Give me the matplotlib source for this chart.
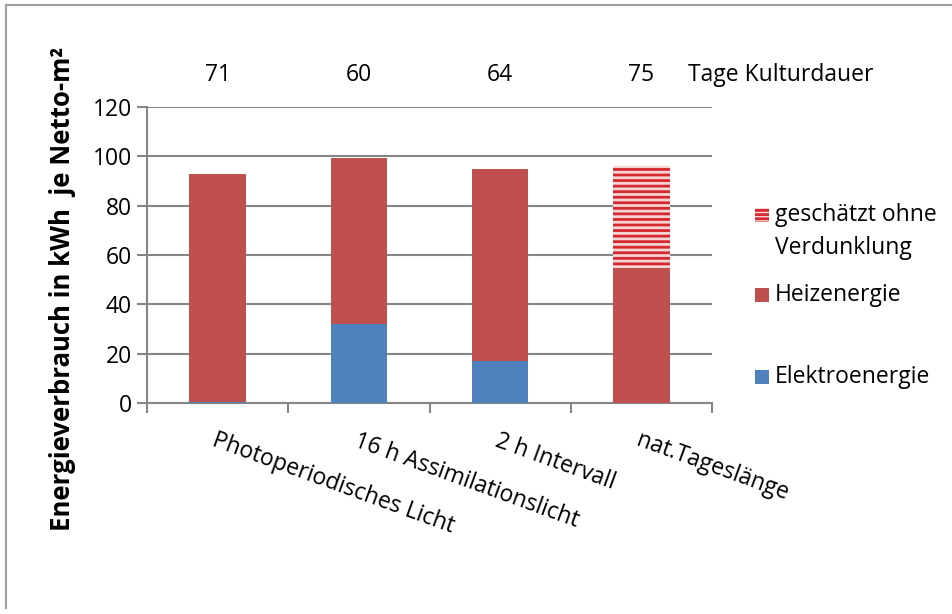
import matplotlib.pyplot as plt
from matplotlib.patches import Rectangle
from matplotlib.lines import Line2D

plt.rcParams['font.family'] = ['Open Sans', 'DejaVu Sans']
plt.rcParams['hatch.linewidth'] = 2.0

categories = ['Photoperiodisches Licht', '16 h Assimilationslicht',
              '2 h Intervall', 'nat.Tageslänge']
kulturdauer = [71, 60, 64, 75]
elektro = [0.4, 32.0, 17.0, 0.0]
heiz = [92.4, 67.5, 77.9, 54.7]
ohne_verdunklung = [0.0, 0.0, 0.0, 41.4]

RED = '#C0504D'
BLUE = '#4F81BD'
GRID = '#868686'
FS = 16.5

fig = plt.figure(figsize=(9.52, 6.14), dpi=100)
W, H = 952, 614


def fx(px):
    return px / W


def fy(py):
    return 1 - py / H


ax = fig.add_axes([fx(147), fy(403), fx(712) - fx(147), fy(107) - fy(403)])

pos = [i + 0.5 for i in range(len(categories))]
width = 0.40
ax.bar(pos, elektro, width, color=BLUE, zorder=3)
ax.bar(pos, heiz, width, bottom=elektro, color=RED, zorder=3)
bottom2 = [e + h for e, h in zip(elektro, heiz)]
ax.bar(pos, ohne_verdunklung, width, bottom=bottom2, facecolor='#F7D4D4',
       edgecolor='#D42A2F', hatch='---', linewidth=0, zorder=3)

ax.set_xlim(0, len(categories))
ax.set_ylim(0, 120)
ax.set_yticks(range(0, 121, 20))
ax.yaxis.grid(True, color=GRID, linewidth=1.5, zorder=0)
ax.set_xticks(range(0, len(categories) + 1))
ax.set_xticklabels([])
for s in ['top', 'right']:
    ax.spines[s].set_visible(False)
for s in ['left', 'bottom']:
    ax.spines[s].set_color(GRID)
    ax.spines[s].set_linewidth(1.5)
ax.tick_params(axis='both', colors=GRID, width=1.5, length=7, labelsize=FS,
               labelcolor='black')
ax.tick_params(axis='y', pad=4)

# category labels, rotated, starting at the bar centre
for p, name in zip(pos, categories):
    ax.text(p, -10.5, name, rotation=-20, rotation_mode='anchor',
            ha='left', va='top', fontsize=FS)

# culture duration above each bar
for p, d in zip(pos, kulturdauer):
    ax.text(p, 133, str(d), ha='center', va='center', fontsize=FS,
            clip_on=False)
fig.text(fx(688), fy(75), 'Tage Kulturdauer', ha='left', va='center',
         fontsize=FS)

fig.text(fx(62), fy(289), 'Energieverbrauch in kWh  je Netto-m²',
         rotation=90, ha='center', va='center', fontsize=18.5,
         fontweight='bold')

# legend entries
patch_kw = dict(transform=fig.transFigure, linewidth=0)
fig.patches.append(Rectangle((fx(755), fy(222)), fx(14), fy(0) - fy(14),
                             facecolor='#F7D4D4', edgecolor='#D42A2F',
                             hatch='----', **patch_kw))
fig.text(fx(775), fy(203), 'geschätzt ohne\nVerdunklung', ha='left',
         va='top', fontsize=FS, linespacing=1.5)
fig.patches.append(Rectangle((fx(755), fy(302)), fx(14), fy(0) - fy(14),
                             facecolor=RED, **patch_kw))
fig.text(fx(775), fy(295), 'Heizenergie', ha='left', va='center', fontsize=FS)
fig.patches.append(Rectangle((fx(755), fy(384)), fx(14), fy(0) - fy(14),
                             facecolor=BLUE, **patch_kw))
fig.text(fx(775), fy(377), 'Elektroenergie', ha='left', va='center',
         fontsize=FS)

# outer chart frame
fig.add_artist(Line2D([fx(6), fx(6)], [fy(5), fy(608)], color='#A0A0A0',
                      linewidth=1.5, transform=fig.transFigure))
fig.add_artist(Line2D([fx(6), fx(952)], [fy(5), fy(5)], color='#A0A0A0',
                      linewidth=1.5, transform=fig.transFigure))

fig.savefig('out.png', dpi=100)
